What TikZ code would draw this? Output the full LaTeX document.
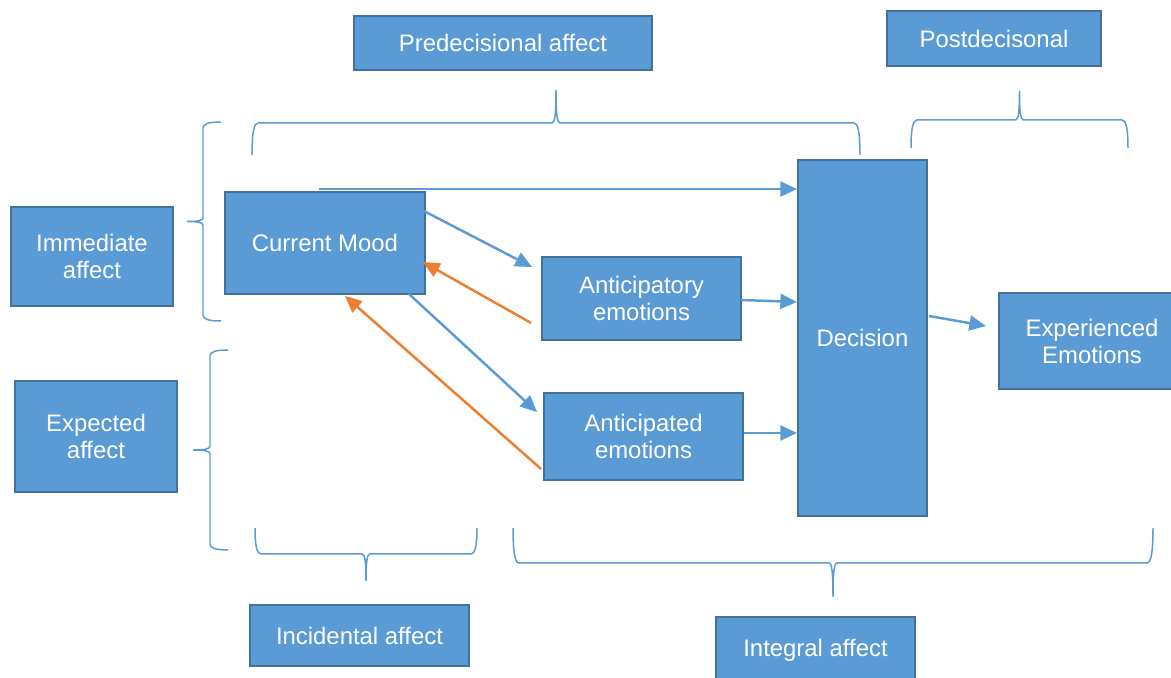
\documentclass[tikz,border=0pt]{standalone}
\usepackage{fontspec}
\setmainfont{Liberation Sans}
\usetikzlibrary{arrows.meta,calc}
\definecolor{boxfill}{HTML}{5B9BD5}
\definecolor{boxline}{HTML}{41719C}
\definecolor{flow}{HTML}{5B9BD5}
\definecolor{back}{HTML}{ED7D31}

% horizontal curly bracket: x from #1 to #2, free ends at y=#3, bar at y=#4, point at y=#5
\newcommand\hbrace[5]{%
  \pgfmathsetmacro\bmid{(#1+#2)/2}%
  \pgfmathsetmacro\bend{#4+0.3*(#3-#4)}%
  \pgfmathsetmacro\btip{#4+0.3*(#5-#4)}%
  \draw[brc] (#1,#3) .. controls (#1,\bend) and (#1+2,#4) .. (#1+6,#4)
    -- (\bmid-4,#4) .. controls (\bmid-1,#4) and (\bmid,\btip) .. (\bmid,#5)
    .. controls (\bmid,\btip) and (\bmid+1,#4) .. (\bmid+4,#4)
    -- (#2-6,#4) .. controls (#2-2,#4) and (#2,\bend) .. (#2,#3);}
% vertical curly bracket: y from #1 to #2, free ends at x=#3, bar at x=#4, point at x=#5
\newcommand\vbrace[5]{%
  \pgfmathsetmacro\bmid{(#1+#2)/2}%
  \pgfmathsetmacro\bend{#4+0.3*(#3-#4)}%
  \pgfmathsetmacro\btip{#4+0.3*(#5-#4)}%
  \draw[brc] (#3,#1) .. controls (\bend,#1) and (#4,#1+2) .. (#4,#1+6)
    -- (#4,\bmid-4) .. controls (#4,\bmid-1) and (\btip,\bmid) .. (#5,\bmid)
    .. controls (\btip,\bmid) and (#4,\bmid+1) .. (#4,\bmid+4)
    -- (#4,#2-6) .. controls (#4,#2-2) and (\bend,#2) .. (#3,#2);}

\begin{document}
\begin{tikzpicture}[x=0.02cm,y=-0.02cm,
  box/.style={draw=boxline, fill=boxfill, line width=1.1pt, text=white,
    align=center, inner sep=0pt, font=\fontsize{13.6}{15.4}\selectfont},
  fwd/.style={draw=flow, line width=1.4pt, -{Triangle[length=9.5pt,width=8.5pt]}},
  bwd/.style={draw=back, line width=1.4pt, -{Triangle[length=9.5pt,width=8.5pt]}},
  brc/.style={draw=flow, line width=0.85pt}]
\useasboundingbox (0,0) rectangle (1171,678);

% boxes
\node[box, minimum width=5.96cm, minimum height=1.08cm] (pre)   at (503,43)    {Predecisional affect};
\node[box, minimum width=4.28cm, minimum height=1.10cm] (post)  at (994,38.5)  {Postdecisonal};
\node[box, minimum width=3.24cm, minimum height=1.98cm] (imm)   at (92,256.5)  {Immediate\\affect};
\node[box, minimum width=3.24cm, minimum height=2.22cm] (expd)  at (96,436.5)  {Expected\\affect};
\node[box, minimum width=4.00cm, minimum height=2.04cm] (mood)  at (325,243)   {Current Mood};
\node[box, minimum width=3.98cm, minimum height=1.66cm] (antry) at (641.5,298.5) {Anticipatory\\emotions};
\node[box, minimum width=3.98cm, minimum height=1.74cm] (anted) at (643.5,436.5) {Anticipated\\emotions};
\node[box, minimum width=2.58cm, minimum height=7.12cm] (dec)   at (862.5,338) {Decision};
\node[box, minimum width=3.72cm, minimum height=1.92cm] (exp)   at (1092,341)  {Experienced\\Emotions};
\node[box, minimum width=4.38cm, minimum height=1.22cm] (inc)   at (359.5,635.5) {Incidental affect};
\node[box, minimum width=3.98cm, minimum height=1.32cm] (integ) at (815.5,650)  {Integral affect};

% brackets
\hbrace{252}{860}{155}{123}{90}
\hbrace{911}{1128}{148}{120}{91}
\hbrace{255}{477}{528}{554}{581}
\hbrace{513}{1153}{528}{563}{597}
\vbrace{122}{321}{221}{203}{187}
\vbrace{350}{550}{228}{210}{193}

% forward influences
\draw[fwd] ($(mood.north)+(-6,-2)$) -- ($(dec.west |- mood.north)+(0,-2)$);
\draw[fwd] ($(mood.north east)+(-2,20)$) -- ($(antry.north west)+(-9,11)$);
\draw[fwd] ($(mood.south east)+(-17,-1)$) -- ($(anted.north west)+(-6,20)$);
\draw[fwd] ($(antry.east)+(-1,1.5)$) -- ($(dec.west |- antry.east)+(0,3.5)$);
\draw[fwd] ($(anted.east)+(0,-3.5)$) -- ($(dec.west |- anted.east)+(0,-3.5)$);
\draw[fwd] ($(dec.east)+(1,-22)$) -- ($(exp.west)+(-12,-15)$);

% feedback to mood
\draw[bwd] ($(antry.south west)+(-10,-18)$) -- ($(mood.east)+(-3,19)$);
\draw[bwd] ($(anted.south west)+(-2,-12)$) -- ($(mood.south)+(20,1)$);
\end{tikzpicture}
\end{document}
